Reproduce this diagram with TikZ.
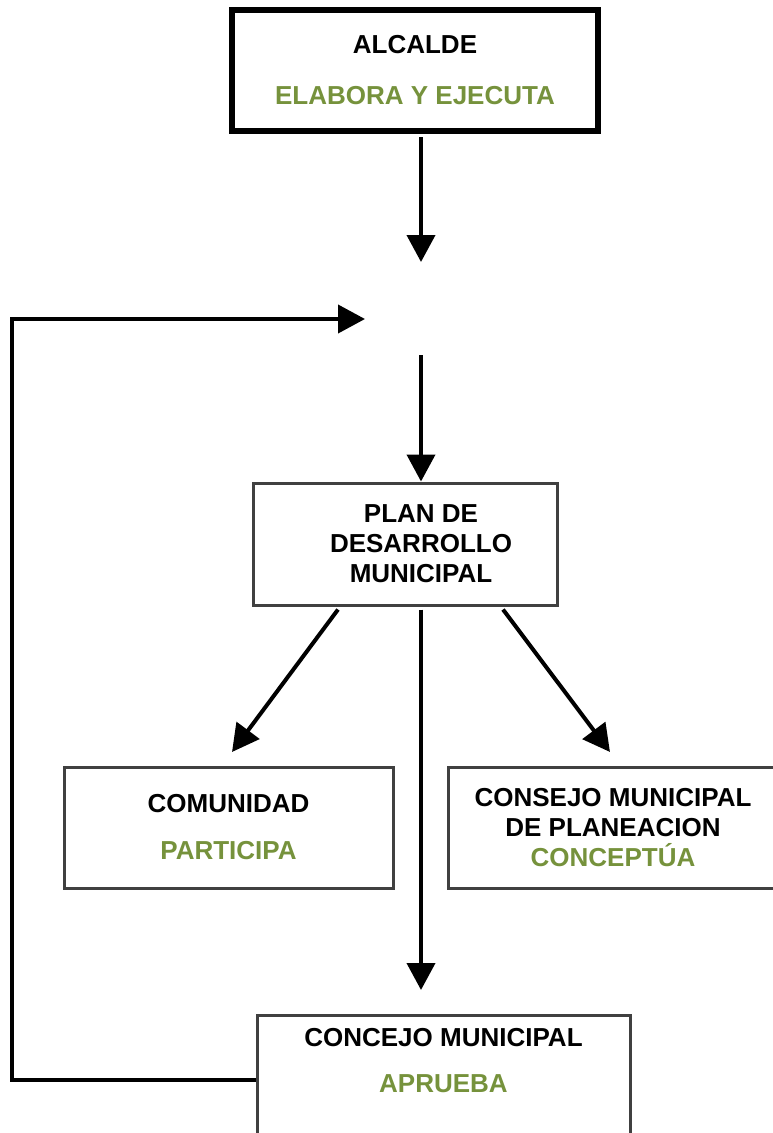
\documentclass[tikz,border=0pt]{standalone}
\usepackage{fontspec}
\setmainfont{Liberation Sans}
\usetikzlibrary{arrows.meta, positioning}
\definecolor{actioncolor}{RGB}{118, 146, 60}
\definecolor{framecolor}{RGB}{64, 64, 64}

\begin{document}
\begin{tikzpicture}[
    x=1pt, y=-1pt,
    font=\fontsize{26}{30}\selectfont\bfseries,
    box/.style={draw=framecolor, line width=3pt, inner sep=0pt, align=center},
    mayorbox/.style={box, draw=black, line width=6pt},
    label/.style={inner sep=0pt, align=center},
    flow/.style={line width=4pt, -{Triangle[length=27pt, width=28pt]}},
]
    \clip (0,0) rectangle (773,1133);

    % Boxes
    \node[mayorbox, minimum width=366pt, minimum height=121pt] (alcalde) at (415, 70.5)
        {ALCALDE\\[21pt]\textcolor{actioncolor}{ELABORA Y EJECUTA}};

    \node[box, minimum width=304pt, minimum height=122pt] (plan) at (405, 544) {};
    \node[label] (plantxt) at (421, 544) {PLAN DE\\DESARROLLO\\MUNICIPAL};

    \node[box, minimum width=329pt, minimum height=121pt] (comunidad) at (228.5, 827.5)
        {COMUNIDAD\\[17pt]\textcolor{actioncolor}{PARTICIPA}};
    \node[box, minimum width=330pt, minimum height=121pt] (consejo) at (613, 827.5)
        {CONSEJO MUNICIPAL\\DE PLANEACION\\\textcolor{actioncolor}{CONCEPTÚA}};

    \node[box, minimum width=373pt, minimum height=130pt] (concejo) at (443.5, 1080) {};
    \node[label] (concejotxt) at (443.5, 1061)
        {CONCEJO MUNICIPAL\\[16pt]\textcolor{actioncolor}{APRUEBA}};

    % Free ends
    \coordinate (gaptop) at (421, 262);
    \coordinate (gapbot) at (421, 355);
    \coordinate (gapin) at (365, 319);
    \coordinate (loopcorner) at (12, 319);
    \coordinate (planout) at ([yshift=-3pt]plantxt |- plan.south);

    % Arrows
    \draw[flow] ([xshift=6pt, yshift=-3pt]alcalde.south) -- (gaptop);
    \draw[flow] (gapbot) -- (gapbot |- plan.north);
    \draw[flow] ([xshift=-83pt]planout) -- ([xshift=3.5pt, yshift=13.5pt]comunidad.north);
    \draw[flow] ([xshift=82pt]planout) -- ([xshift=-3pt, yshift=13.5pt]consejo.north);
    \draw[flow, shorten >=23.5pt] (planout) -- (planout |- concejo.north);
    \draw[flow] (concejo.west) -| (loopcorner) -- (gapin);

\end{tikzpicture}
\end{document}
